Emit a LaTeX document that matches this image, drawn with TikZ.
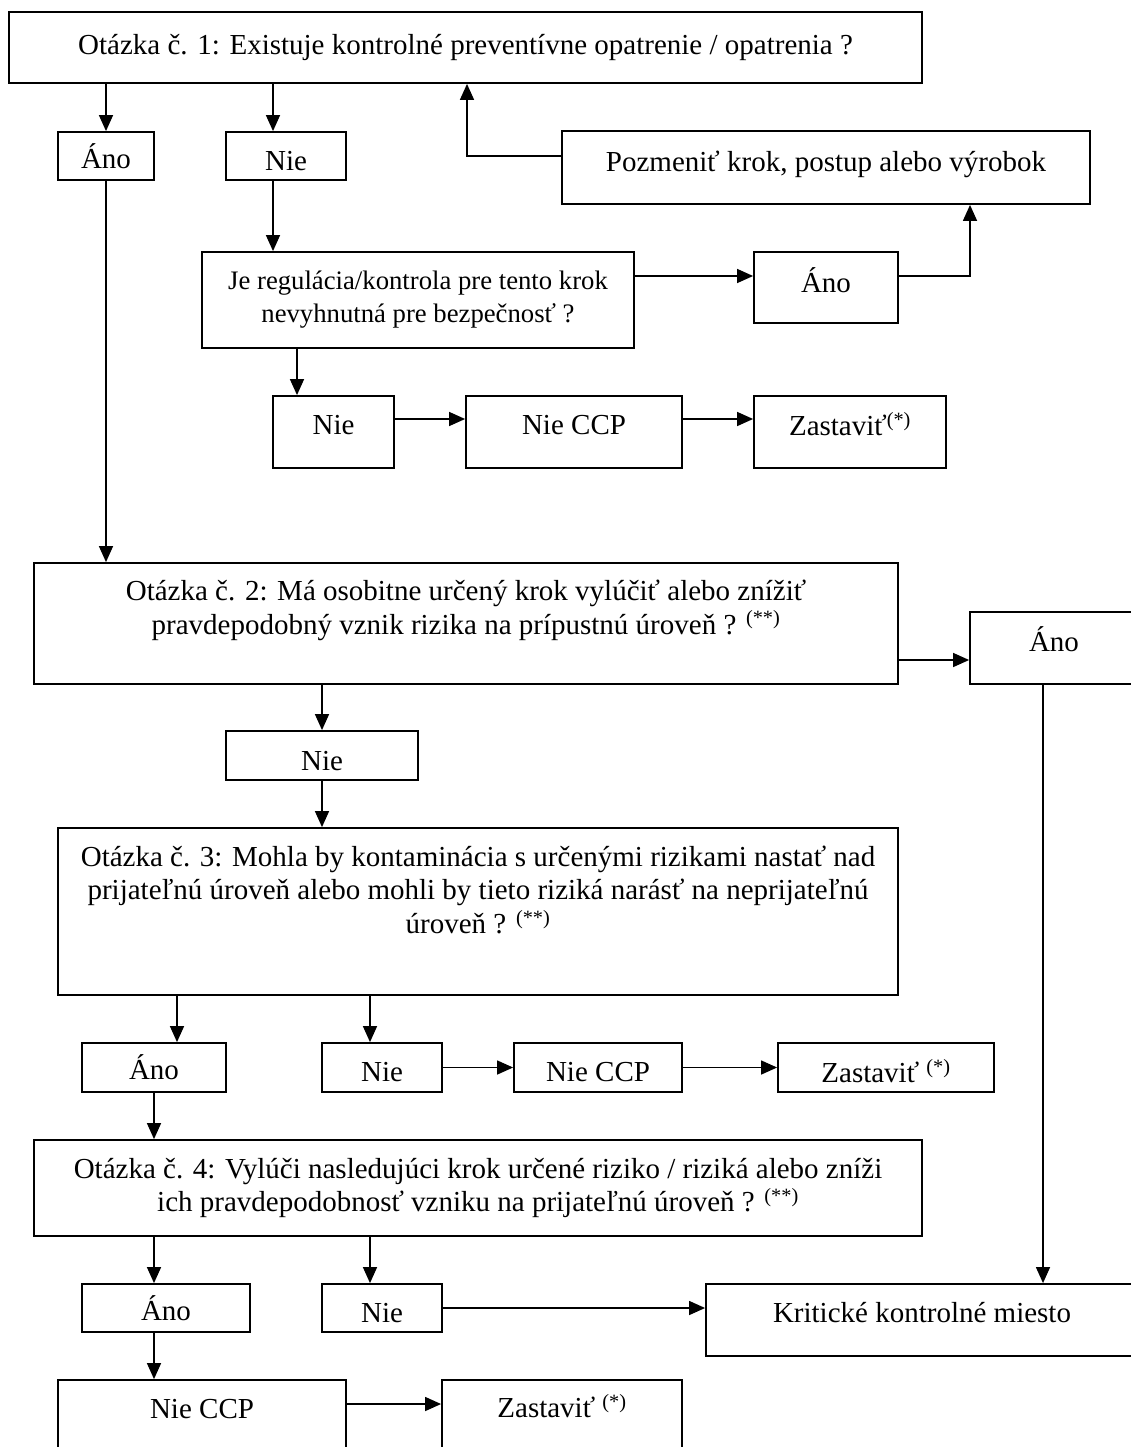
\documentclass[tikz,border=0pt]{standalone}
\usepackage{fontspec}
\setmainfont{Liberation Serif}
\usetikzlibrary{arrows.meta,positioning}
\newcommand{\boxfont}{\fontsize{29}{33.5}\selectfont}
\newcommand{\smallboxfont}{\fontsize{26.7}{33}\selectfont}
\tikzset{
    %Define standard arrow tip
    >={Triangle[length=16pt,width=14pt]},
    %Define style for boxes
    block/.style={
      rectangle,
      draw=black, line width=1.8pt,
      inner sep=0pt,
      align=center,
      font=\boxfont},
    % Size of a box
    dims/.style 2 args={
      minimum width=#1pt,
      minimum height=#2pt},
    % Move the text up or down in its box
    lift/.style={text depth=#1pt},
    drop/.style={text height=#1pt},
    % Define arrow style
    arr/.style={
      ->,
      line width=1.4pt}
}

\begin{document}
\begin{tikzpicture}[x=1pt, y=-1pt]
    \clip (0,0) rectangle (1131,1447);

    % question 1 and its branches
    \node[block, dims={913}{71}] (q1) at (465.5,47.5)
      {Otázka č. 1: Existuje kontrolné preventívne opatrenie / opatrenia ?};
    \node[block, dims={96}{48}] (ano1) at (106,156) {Áno};
    \node[block, dims={120}{48}, drop=29] (nie1) at (286,156) {Nie};
    \node[block, dims={528}{73}, lift=12] (zmena) at (826,167.5)
      {Pozmeniť krok, postup alebo výrobok};
    \node[block, dims={432}{96}, font=\smallboxfont] (regul) at (418,300)
      {Je regulácia/kontrola pre tento krok\\nevyhnutná pre bezpečnosť ?};
    \node[block, dims={144}{71}, lift=14] (ano2) at (826,287.5) {Áno};
    \node[block, dims={121}{72}, lift=14] (nie2) at (333.5,432) {Nie};
    \node[block, dims={216}{72}, lift=14] (nieccp1) at (574,432) {Nie CCP};
    \node[block, dims={192}{72}, lift=17] (stop1) at (850,432)
      {Zastaviť\textsuperscript{(*)}};

    % question 2
    \node[block, dims={864}{121}, lift=33] (q2) at (466,623.5)
      {Otázka č. 2: Má osobitne určený krok vylúčiť alebo znížiť\\
       pravdepodobný vznik rizika na prípustnú úroveň ? \textsuperscript{(**)}};
    \node[block, dims={168}{72}, lift=18] (ano3) at (1054,648) {Áno};
    \node[block, dims={192}{49}, drop=30] (nie3) at (322,755.5) {Nie};

    % question 3
    \node[block, dims={840}{167}, lift=44] (q3) at (478,911.5)
      {Otázka č. 3: Mohla by kontaminácia s určenými rizikami nastať nad\\
       prijateľnú úroveň alebo mohli by tieto riziká narásť na neprijateľnú\\
       úroveň ? \textsuperscript{(**)}};
    \node[block, dims={144}{49}] (ano4) at (154,1067.5) {Áno};
    \node[block, dims={120}{49}, drop=29] (nie4) at (382,1067.5) {Nie};
    \node[block, dims={168}{49}, drop=29] (nieccp2) at (598,1067.5) {Nie CCP};
    \node[block, dims={216}{49}, drop=30] (stop2) at (886,1067.5)
      {Zastaviť \textsuperscript{(*)}};

    % question 4
    \node[block, dims={888}{96}] (q4) at (478,1188)
      {Otázka č. 4: Vylúči nasledujúci krok určené riziko / riziká alebo zníži\\
       ich pravdepodobnosť vzniku na prijateľnú úroveň ? \textsuperscript{(**)}};
    \node[block, dims={168}{48}] (ano5) at (166,1308) {Áno};
    \node[block, dims={120}{48}, drop=29] (nie5) at (382,1308) {Nie};
    \node[block, dims={432}{72}, lift=16] (ccp) at (922,1320)
      {Kritické kontrolné miesto};
    \node[block, dims={288}{72}, lift=14] (nieccp3) at (202,1416) {Nie CCP};
    \node[block, dims={240}{72}, lift=20] (stop3) at (562,1416)
      {Zastaviť \textsuperscript{(*)}};

    % connectors of question 1
    \draw[arr] (ano1.north |- q1.south) -- (ano1.north);
    \draw[arr] ([xshift=-13pt]nie1.north |- q1.south) -- ([xshift=-13pt]nie1.north);
    \draw[arr] ([yshift=11.5pt]zmena.west) -| ([xshift=1.5pt]q1.south);
    \draw[arr] ([xshift=-13pt]nie1.south) -- ([xshift=-13pt]nie1.south |- regul.north);
    \draw[arr] ([yshift=24pt]regul.east) -- ([yshift=24pt]regul.east -| ano2.west);
    \draw[arr] ([yshift=11.5pt]ano2.east) -| ([xshift=144pt]zmena.south);
    \draw[arr] ([xshift=-36.5pt]nie2.north |- regul.south) -- ([xshift=-36.5pt]nie2.north);
    \draw[arr] ([yshift=13pt]nie2.east) -- ([yshift=13pt]nieccp1.west);
    \draw[arr] ([yshift=13pt]nieccp1.east) -- ([yshift=13pt]stop1.west);

    % connectors of question 2
    \draw[arr] (ano1.south) -- (ano1.south |- q2.north);
    \draw[arr] ([yshift=-12pt]ano3.west -| q2.east) -- ([yshift=-12pt]ano3.west);
    \draw[arr] (nie3.north |- q2.south) -- (nie3.north);
    \draw[arr] (nie3.south) -- (nie3.south |- q3.north);
    \draw[arr] ([xshift=-11pt]ano3.south) -- ([xshift=-11pt]ano3.south |- ccp.north);

    % connectors of question 3
    \draw[arr] ([xshift=23pt]ano4.north |- q3.south) -- ([xshift=23pt]ano4.north);
    \draw[arr] ([xshift=-12pt]nie4.north |- q3.south) -- ([xshift=-12pt]nie4.north);
    \draw[arr] (nie4) -- (nieccp2);
    \draw[arr] (nieccp2) -- (stop2);
    \draw[arr] (ano4.south) -- (ano4.south |- q4.north);

    % connectors of question 4
    \draw[arr] ([xshift=-12pt]ano5.north |- q4.south) -- ([xshift=-12pt]ano5.north);
    \draw[arr] ([xshift=-12pt]nie5.north |- q4.south) -- ([xshift=-12pt]nie5.north);
    \draw[arr] (nie5.east) -- (nie5.east -| ccp.west);
    \draw[arr] ([xshift=-12pt]ano5.south) -- ([xshift=-12pt]ano5.south |- nieccp3.north);
    \draw[arr] ([yshift=12pt]nieccp3.east) -- ([yshift=12pt]stop3.west);
\end{tikzpicture}
\end{document}
